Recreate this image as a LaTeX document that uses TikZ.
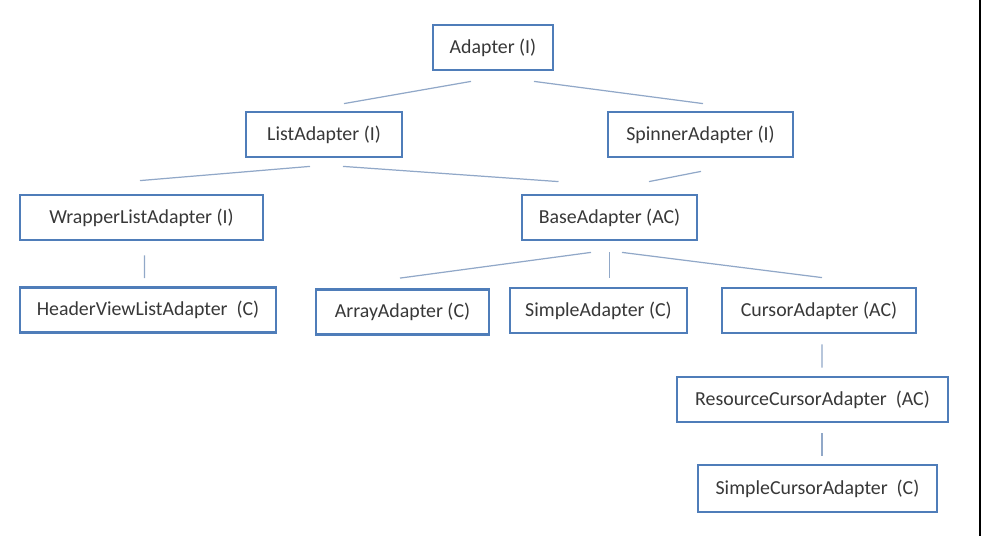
\documentclass[tikz,border=0pt]{standalone}
\usepackage{fontspec}
\setmainfont{Carlito}
\usetikzlibrary{calc}
\usepackage{xcolor}
\definecolor{boxblue}{RGB}{79,125,185}
\definecolor{linkblue}{RGB}{145,168,200}

\begin{document}
\begin{tikzpicture}[x=0.02cm,y=-0.02cm,
  cls/.style={draw=boxblue,line width=1.6pt,fill=white,inner sep=0pt,
    minimum height=0.9cm,text=black!78,font=\fontsize{11.3}{13}\selectfont},
  link/.style={draw=linkblue,line width=0.7pt}]

\useasboundingbox (0,0) rectangle (981,536);
\draw[line width=1.2pt] (980,0) -- (980,536);

\node[cls,minimum width=2.4cm] (adapter) at (493,47.5) {Adapter (I)};

\node[cls,minimum width=3.12cm] (list) at (324,134.5) {ListAdapter (I)};
\node[cls,minimum width=3.7cm] (spinner) at (700.5,134.5) {SpinnerAdapter (I)};

\node[cls,minimum width=4.86cm] (wrapper) at (141.5,217.5) {WrapperListAdapter (I)};
\node[cls,minimum width=3.5cm] (base) at (609.5,217.5) {BaseAdapter (AC)};

\node[cls,minimum width=5.12cm] (header) at (148,310) {HeaderViewListAdapter\ \ (C)};
\node[cls,minimum width=3.46cm] (array) at (402.5,312) {ArrayAdapter (C)};
\node[cls,minimum width=3.54cm] (simple) at (598.5,310.5) {SimpleAdapter (C)};
\node[cls,minimum width=3.88cm] (cursor) at (819,310.5) {CursorAdapter (AC)};

\node[cls,minimum width=5.42cm] (resource) at (812.5,399.5) {ResourceCursorAdapter\ \ (AC)};
\node[cls,minimum width=4.78cm,minimum height=0.94cm] (simplecursor) at (817.5,488.5) {SimpleCursorAdapter\ \ (C)};

\draw[link] ($(adapter.south)+(-22,10)$) -- ($(list.north)+(20,-7)$);
\draw[link] ($(adapter.south)+(41,10)$) -- ($(spinner.north)+(2.5,-7)$);

\draw[link] ($(list.south)+(-14,8)$) -- ($(wrapper.north)+(-1.5,-13)$);
\draw[link] ($(list.south)+(19,8)$) -- ($(base.north)+(-51,-12)$);
\draw[link] ($(spinner.south)+(0.5,13)$) -- ($(base.north)+(39.5,-12)$);

\draw[link] ($(wrapper.south)+(3,14)$) -- ($(header.north)+(-3.5,-8)$);

\draw[link] ($(base.south)+(-18.5,11)$) -- ($(array.north)+(-2.5,-10)$);
\draw[link] ($(base.south)+(0,11)$) -- ($(simple.north)+(11,-9)$);
\draw[link] ($(base.south)+(12.5,11)$) -- ($(cursor.north)+(3,-9)$);

\draw[link] ($(cursor.south)+(3,10)$) -- ($(resource.north)+(9.5,-8)$);
\draw[link] ($(resource.south)+(9.5,10)$) -- ($(simplecursor.north)+(4.5,-8)$);

\end{tikzpicture}
\end{document}
